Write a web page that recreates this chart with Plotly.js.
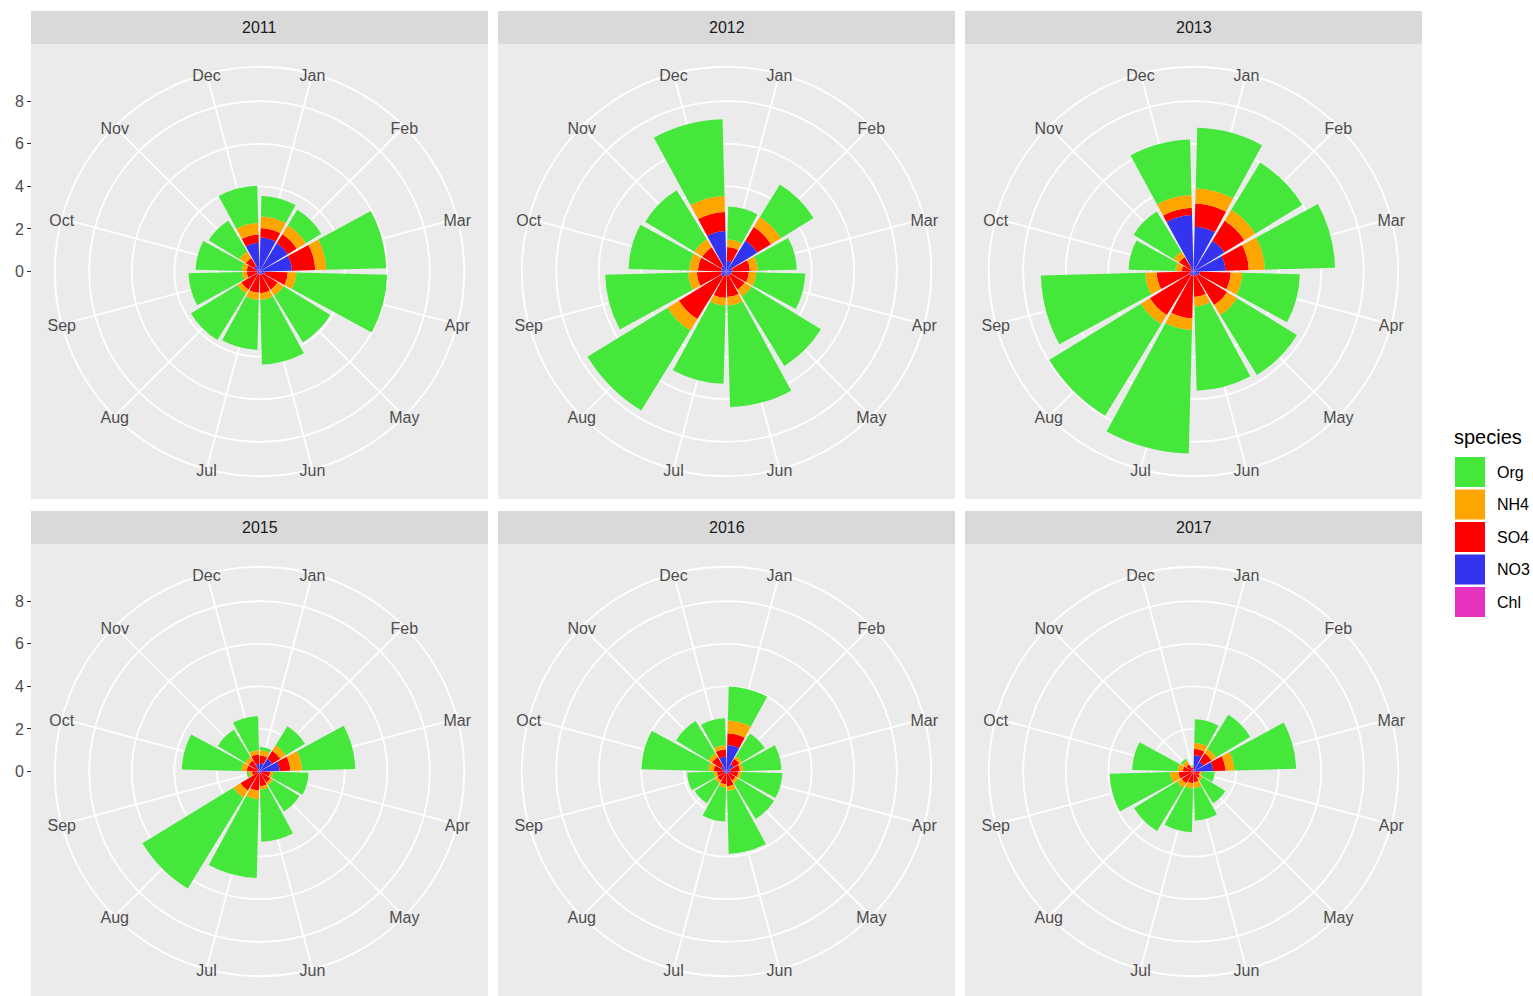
<!DOCTYPE html>
<html>
<head>
<meta charset="utf-8">
<script src="https://cdn.plot.ly/plotly-3.0.1.min.js"></script>
<style>
  html, body { margin: 0; padding: 0; background: #ffffff; }
  #chart { width: 1533px; height: 996px; }
</style>
</head>
<body>
<div id="chart"></div>
<script>
// Monthly aerosol composition by year, stacked in polar coordinates
const months = ['Jan', 'Feb', 'Mar', 'Apr', 'May', 'Jun', 'Jul', 'Aug', 'Sep', 'Oct', 'Nov', 'Dec'];
const years = ['2011', '2012', '2013', '2015', '2016', '2017'];
const species = ['Org', 'NH4', 'SO4', 'NO3', 'Chl'];
const speciesColors = ['#45E83A', '#FFA500', '#FF0000', '#3434F0', '#E632BE'];
const radialTicks = [0, 2, 4, 6, 8];

// one row per year (2011, 2012, 2013, 2015, 2016, 2017), one value per month
const Org = [
  [0.96, 0.85, 2.81, 4.27, 2.57, 3.04, 2.35, 2.56, 2.51, 2.18, 1.70, 1.75],
  [1.55, 1.80, 1.83, 2.30, 3.82, 4.77, 3.68, 4.41, 3.90, 2.85, 2.71, 3.60],
  [2.85, 2.60, 3.30, 2.70, 3.30, 3.95, 5.80, 5.05, 4.90, 2.20, 2.20, 2.60],
  [0.15, 1.05, 2.50, 1.65, 1.45, 2.45, 3.70, 5.00, 0.10, 2.80, 1.50, 1.60],
  [1.60, 1.25, 1.80, 1.92, 1.97, 2.95, 1.60, 1.10, 1.25, 3.15, 1.78, 1.25],
  [1.10, 1.88, 2.90, 0.60, 1.25, 1.52, 2.05, 2.38, 2.84, 2.13, 0.10, 0.05]
];
const NH4 = [
  [0.55, 0.50, 0.52, 0.40, 0.33, 0.31, 0.33, 0.22, 0.22, 0.22, 0.35, 0.53],
  [0.35, 0.55, 0.37, 0.35, 0.38, 0.40, 0.35, 0.63, 0.40, 0.40, 0.44, 0.75],
  [0.70, 0.60, 0.75, 0.55, 0.55, 0.45, 0.55, 0.50, 0.54, 0.30, 0.30, 0.60],
  [0.25, 0.30, 0.55, 0.15, 0.15, 0.15, 0.40, 0.40, 0.15, 0.25, 0.20, 0.20],
  [0.60, 0.15, 0.15, 0.15, 0.15, 0.22, 0.15, 0.15, 0.15, 0.25, 0.20, 0.20],
  [0.28, 0.25, 0.42, 0.10, 0.15, 0.28, 0.25, 0.25, 0.40, 0.25, 0.20, 0.05]
];
const SO4 = [
  [0.44, 0.50, 1.10, 1.08, 0.85, 0.87, 0.85, 0.85, 0.50, 0.45, 0.45, 0.40],
  [0.65, 0.75, 0.80, 0.80, 0.80, 1.00, 1.05, 2.32, 1.15, 1.10, 1.03, 0.90],
  [1.10, 1.10, 1.10, 1.45, 1.60, 1.00, 2.00, 2.20, 1.53, 0.45, 0.65, 0.35],
  [0.35, 0.45, 0.50, 0.40, 0.50, 0.60, 0.80, 0.95, 0.30, 0.50, 0.50, 0.45],
  [0.55, 0.30, 0.43, 0.40, 0.40, 0.60, 0.50, 0.40, 0.35, 0.45, 0.50, 0.35],
  [0.29, 0.45, 0.58, 0.25, 0.30, 0.45, 0.50, 0.60, 0.65, 0.45, 0.35, 0.15]
];
const NO3 = [
  [1.57, 1.52, 1.49, 0.22, 0.12, 0.12, 0.12, 0.12, 0.07, 0.12, 0.27, 1.32],
  [0.47, 1.67, 0.27, 0.22, 0.17, 0.17, 0.17, 0.27, 0.22, 0.22, 0.27, 1.87],
  [2.07, 1.67, 1.47, 0.27, 0.22, 0.17, 0.17, 0.17, 0.17, 0.07, 0.12, 2.62],
  [0.38, 0.68, 0.93, 0.08, 0.08, 0.08, 0.08, 0.08, 0.03, 0.08, 0.08, 0.33],
  [1.23, 0.38, 0.18, 0.13, 0.08, 0.08, 0.08, 0.08, 0.08, 0.13, 0.28, 0.68],
  [0.76, 0.53, 0.90, 0.03, 0.03, 0.03, 0.03, 0.03, 0.03, 0.03, 0.03, 0.03]
];
const Chl = [
  [0.03, 0.03, 0.03, 0.03, 0.03, 0.03, 0.03, 0.03, 0.03, 0.03, 0.03, 0.03],
  [0.03, 0.03, 0.03, 0.03, 0.03, 0.03, 0.03, 0.03, 0.03, 0.03, 0.03, 0.03],
  [0.03, 0.03, 0.03, 0.03, 0.03, 0.03, 0.03, 0.03, 0.03, 0.03, 0.03, 0.03],
  [0.02, 0.02, 0.02, 0.02, 0.02, 0.02, 0.02, 0.02, 0.02, 0.02, 0.02, 0.02],
  [0.02, 0.02, 0.02, 0.02, 0.02, 0.02, 0.02, 0.02, 0.02, 0.02, 0.02, 0.02],
  [0.02, 0.02, 0.02, 0.02, 0.02, 0.02, 0.02, 0.02, 0.02, 0.02, 0.02, 0.02]
];

const seriesBySpecies = { Org, NH4, SO4, NO3, Chl };

// ---- page geometry (pixels) ----
const W = 1533, H = 996;
const colLeft = [31, 498, 965];
const rowTop = [11, 511];
const stripH = 33, panelW = 457, panelH = 455;
const polarPx = 0.45 * Math.min(panelW, panelH);   // outer ring radius

const FONT = 'Liberation Sans, Arial, Helvetica, sans-serif';
const fx = px => px / W;
const fy = py => 1 - py / H;

// radial scale: tallest stacked bar sits at 0.4 of the panel, outer ring at 0.45
let rMax = 0;
years.forEach((y, i) => months.forEach((m, j) => {
  const total = species.reduce((acc, k) => acc + seriesBySpecies[k][i][j], 0);
  rMax = Math.max(rMax, total);
}));
const rOuter = rMax * 0.45 / 0.4;

const traces = [];
const layout = {
  width: W, height: H, autosize: false,
  margin: { l: 0, r: 0, t: 0, b: 0 },
  paper_bgcolor: '#ffffff',
  plot_bgcolor: 'rgba(0,0,0,0)',
  font: { family: FONT, size: 16, color: '#4D4D4D' },
  showlegend: false,
  shapes: [],
  annotations: []
};

years.forEach((yr, i) => {
  const col = i % 3, row = Math.floor(i / 3);
  const left = colLeft[col];
  const top = rowTop[row];
  const panelTop = top + stripH;
  const cx = left + panelW / 2;
  const cy = panelTop + panelH / 2;
  const pid = i === 0 ? 'polar' : 'polar' + (i + 1);

  // strip and panel backgrounds
  layout.shapes.push({
    type: 'rect', xref: 'paper', yref: 'paper', layer: 'below',
    x0: fx(left), x1: fx(left + panelW), y0: fy(top), y1: fy(panelTop),
    fillcolor: '#D9D9D9', line: { width: 0 }
  });
  layout.shapes.push({
    type: 'rect', xref: 'paper', yref: 'paper', layer: 'below',
    x0: fx(left), x1: fx(left + panelW), y0: fy(panelTop), y1: fy(panelTop + panelH),
    fillcolor: '#EBEBEB', line: { width: 0 }
  });
  layout.annotations.push({
    xref: 'paper', yref: 'paper', x: fx(cx), y: fy(top + stripH / 2),
    text: yr, showarrow: false, xanchor: 'center', yanchor: 'middle',
    font: { family: FONT, size: 16, color: '#1A1A1A' }
  });

  layout[pid] = {
    domain: {
      x: [fx(cx - polarPx), fx(cx + polarPx)],
      y: [fy(cy + polarPx), fy(cy - polarPx)]
    },
    bgcolor: 'rgba(0,0,0,0)',
    barmode: 'stack',
    bargap: 0.1,
    radialaxis: {
      range: [0, rOuter], tickvals: radialTicks.slice(1),
      showticklabels: false, ticks: '', showline: false,
      gridcolor: '#FFFFFF', gridwidth: 1.8, layer: 'below traces'
    },
    angularaxis: {
      type: 'category', categoryarray: months,
      rotation: 75, direction: 'clockwise',
      showticklabels: false, ticks: '',
      gridcolor: '#FFFFFF', gridwidth: 1.8,
      showline: true, linecolor: '#FFFFFF', linewidth: 1.8,
      layer: 'below traces'
    }
  };

  // stacked from the centre outwards: Chl, NO3, SO4, NH4, Org
  species.slice().reverse().forEach(k => {
    traces.push({
      type: 'barpolar', subplot: pid, name: k,
      r: seriesBySpecies[k][i], theta: months,
      marker: { color: speciesColors[species.indexOf(k)], line: { width: 0 } },
      showlegend: false, hoverinfo: 'theta+r+name'
    });
  });

  // month labels centred on the outer ring
  traces.push({
    type: 'scatterpolar', subplot: pid, mode: 'text',
    r: months.map(() => rOuter), theta: months, text: months,
    textposition: 'middle center',
    textfont: { family: FONT, size: 16, color: '#4D4D4D' },
    cliponaxis: false, hoverinfo: 'skip', showlegend: false
  });
});

// radial value axis on the left of each row
const yAxisCommon = {
  range: [-rOuter, rOuter], anchor: 'free', position: fx(colLeft[0]),
  tickvals: radialTicks, ticks: 'outside', ticklen: 4, tickwidth: 1.1,
  tickcolor: '#333333', showgrid: false, zeroline: false, showline: false,
  tickfont: { family: FONT, size: 16, color: '#4D4D4D' }, fixedrange: true
};
rowTop.forEach((top, r) => {
  const cy = top + stripH + panelH / 2;
  const key = r === 0 ? 'yaxis' : 'yaxis2';
  layout[key] = Object.assign({}, yAxisCommon, {
    domain: [fy(cy + polarPx), fy(cy - polarPx)]
  });
  traces.push({
    type: 'scatter', x: [], y: [], xaxis: 'x', yaxis: r === 0 ? 'y' : 'y2',
    showlegend: false, hoverinfo: 'skip'
  });
});
layout.xaxis = { domain: [0, 0.001], visible: false, fixedrange: true };

// legend
layout.annotations.push({
  xref: 'paper', yref: 'paper', x: fx(1452), y: fy(437),
  text: 'species', showarrow: false, xanchor: 'left', yanchor: 'middle',
  font: { family: FONT, size: 20, color: '#000000' }
});
species.forEach((k, idx) => {
  const keyTop = 457 + idx * 32.5;
  layout.shapes.push({
    type: 'rect', xref: 'paper', yref: 'paper',
    x0: fx(1455), x1: fx(1485), y0: fy(keyTop), y1: fy(keyTop + 30),
    fillcolor: speciesColors[idx], line: { width: 0 }
  });
  layout.annotations.push({
    xref: 'paper', yref: 'paper', x: fx(1495), y: fy(keyTop + 15),
    text: k, showarrow: false, xanchor: 'left', yanchor: 'middle',
    font: { family: FONT, size: 16, color: '#000000' }
  });
});

Plotly.newPlot('chart', traces, layout, { displayModeBar: false, staticPlot: true })
  .then(gd => {
    // nudge the month labels so their visual centre sits on the outer ring
    gd.querySelectorAll('.polarlayer .textpoint text')
      .forEach(t => t.setAttribute('transform', 'translate(0,3)'));
  });
</script>
</body>
</html>
